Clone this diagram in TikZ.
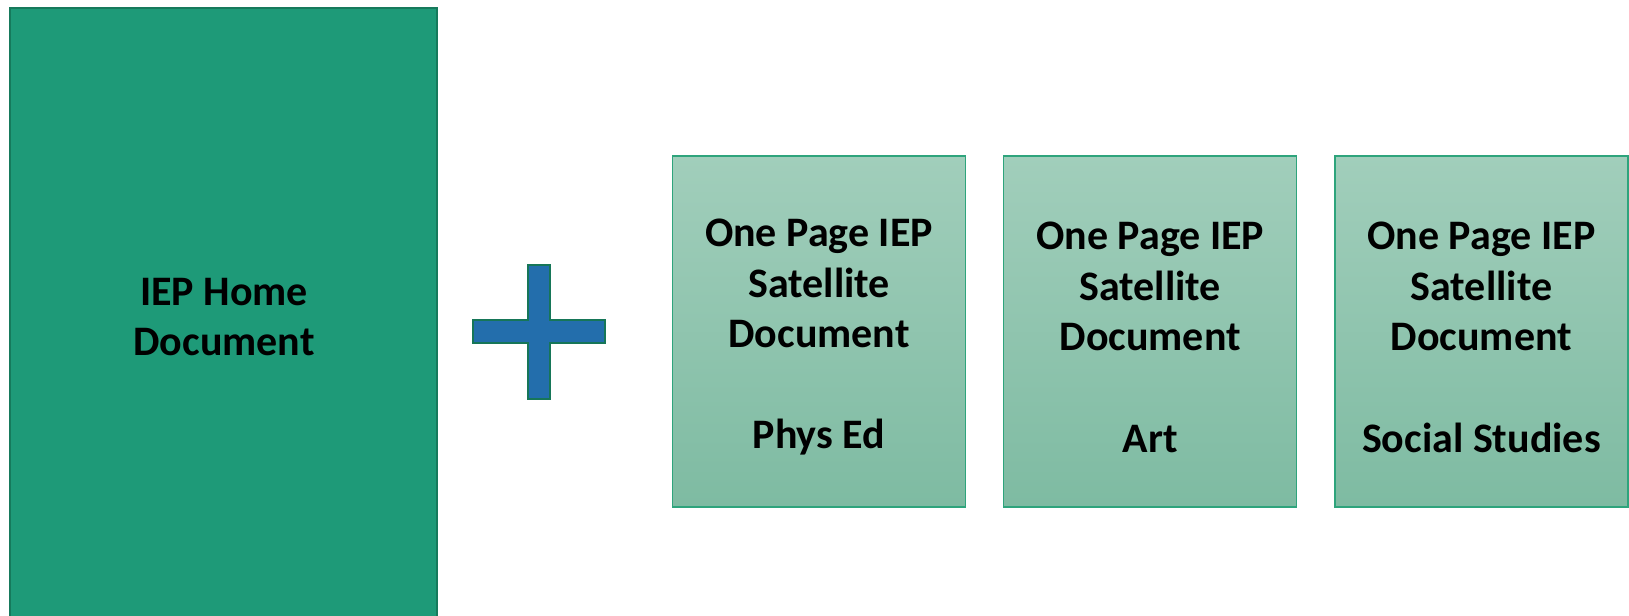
\documentclass[tikz,border=0pt]{standalone}
\usepackage{fontspec}
\setmainfont{Carlito}
\usetikzlibrary{positioning}
\definecolor{homefill}{RGB}{30,154,120}
\definecolor{homeline}{RGB}{22,122,92}
\definecolor{sattop}{RGB}{161,206,187}
\definecolor{satbot}{RGB}{126,187,162}
\definecolor{satline}{RGB}{46,164,124}
\definecolor{plusfill}{RGB}{35,110,172}
\definecolor{plusline}{RGB}{22,118,88}
\newcommand{\satstrut}{\rule{0pt}{19.5pt}}
\tikzset{
	satbox/.style={draw=satline, line width=0.6pt, top color=sattop, bottom color=satbot,
		minimum width=146.5pt, minimum height=175.5pt, align=center, inner sep=0pt},
}

\begin{document}
\begin{tikzpicture}[x=0.5pt, y=-0.5pt, font=\bfseries\fontsize{21}{25.3}\selectfont]
		\useasboundingbox (0,0) rectangle (1629,616);
		\clip (0,0) rectangle (1629,616);
		% home document (runs off the bottom)
		\draw[fill=homefill, draw=homeline, line width=0.8pt] (10,8) rectangle (437,623);
		\node[align=center] (home) at (224,317) {IEP Home\\Document};
		% plus sign
		\draw[fill=plusfill, draw=plusline, line width=1.2pt] (528,265) -- (550,265) -- (550,320) -- (605,320) -- (605,343) -- (550,343) -- (550,399) -- (528,399) -- (528,343) -- (473,343) -- (473,320) -- (528,320) -- cycle;
		% satellite documents
		\node[satbox] (physed) at (819,331.5) {\satstrut One Page IEP\\Satellite\\Document\\[25.3pt]Phys Ed};
		\node[satbox, right=18.5pt of physed] (art) {\satstrut One Page IEP\\Satellite\\Document\\[25.3pt]Art};
		\node[satbox, right=18.5pt of art] (social) {\satstrut One Page IEP\\Satellite\\Document\\[25.3pt]Social Studies};
	\end{tikzpicture}
\end{document}
